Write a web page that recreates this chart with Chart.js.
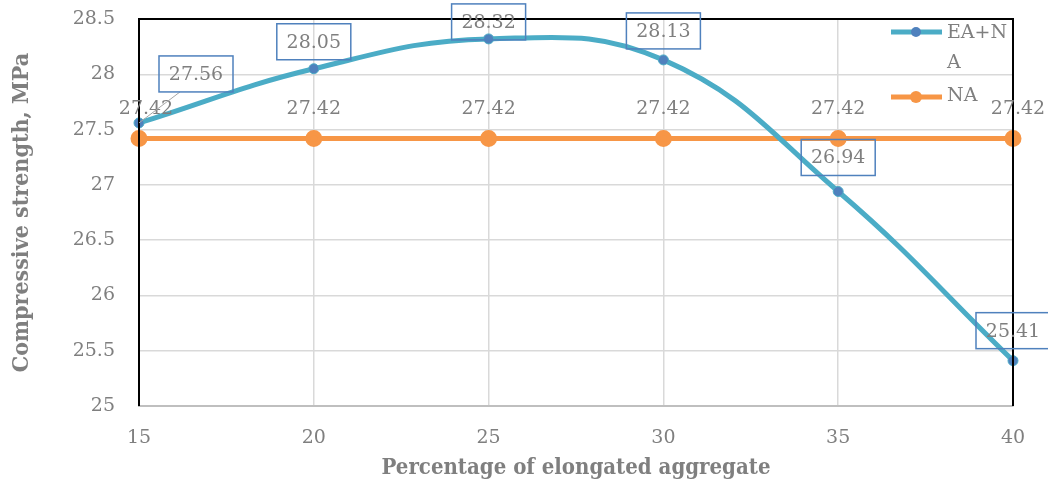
<!DOCTYPE html>
<html>
<head>
<meta charset="utf-8">
<script src="https://cdn.jsdelivr.net/npm/chart.js@4"></script>
<style>
    html, body { margin: 0; padding: 0; background: #ffffff; }
    #wrap { width: 1048px; height: 488px; }
</style>
</head>
<body>
<div id="wrap"><canvas id="strengthChart" width="1048" height="488"></canvas></div>
<script>
const percentages = [15, 20, 25, 30, 35, 40];
const eaNaValues = [27.56, 28.05, 28.32, 28.13, 26.94, 25.41];
const naValues = [27.42, 27.42, 27.42, 27.42, 27.42, 27.42];
const yTicks = [25, 25.5, 26, 26.5, 27, 27.5, 28, 28.5];
const xTicks = [15, 20, 25, 30, 35, 40];

const SERIF = "'DejaVu Serif', 'Liberation Serif', serif";
const SERIF_COND = "'DejaVu Serif Condensed', 'DejaVu Serif', serif";
const GREY_TEXT = "#7f7f7f";

// label offsets (px) from the point, like the moved Excel labels
const eaLabelShift = [[57, -49], [0, -27], [0, -17], [0, -29], [0, -34], [0, -30]];
const naLabelShift = [[7, -29], [0, -29], [0, -29], [0, -29], [0, -29], [5, -29]];

const labelPlugin = {
    id: "labelPlugin",
    afterDatasetsDraw(chart) {
        const ctx = chart.ctx;
        const area = chart.chartArea;
        ctx.save();

        // frame: black left, top, right
        ctx.strokeStyle = "#000000";
        ctx.lineWidth = 2;
        ctx.beginPath();
        ctx.moveTo(area.left, area.bottom);
        ctx.lineTo(area.left, area.top);
        ctx.lineTo(area.right, area.top);
        ctx.lineTo(area.right, area.bottom);
        ctx.stroke();

        ctx.font = "19px " + SERIF;
        ctx.textAlign = "center";
        ctx.textBaseline = "middle";

        const naMeta = chart.getDatasetMeta(1);
        naMeta.data.forEach((pt, i) => {
            const [dx, dy] = naLabelShift[i];
            ctx.fillStyle = GREY_TEXT;
            ctx.fillText(naValues[i].toFixed(2), pt.x + dx, pt.y + dy);
        });

        const eaMeta = chart.getDatasetMeta(0);
        eaMeta.data.forEach((pt, i) => {
            const [dx, dy] = eaLabelShift[i];
            const cx = pt.x + dx;
            const cy = pt.y + dy;
            const w = 74, h = 36;
            if (i === 0) {
                ctx.strokeStyle = "#a6a6a6";
                ctx.lineWidth = 1;
                ctx.beginPath();
                ctx.moveTo(pt.x, pt.y);
                ctx.lineTo(cx - 16, cy + h / 2);
                ctx.stroke();
            }
            ctx.strokeStyle = "#4f81bd";
            ctx.lineWidth = 1.5;
            ctx.strokeRect(cx - w / 2, cy - h / 2, w, h);
            ctx.fillStyle = GREY_TEXT;
            ctx.fillText(eaNaValues[i].toFixed(2), cx, cy + 1);
        });

        // legend
        ctx.lineWidth = 5;
        ctx.strokeStyle = "#4bacc6";
        ctx.beginPath();
        ctx.moveTo(891, 32);
        ctx.lineTo(942, 32);
        ctx.stroke();
        ctx.fillStyle = "#4f81bd";
        ctx.beginPath();
        ctx.arc(916, 32, 5, 0, Math.PI * 2);
        ctx.fill();

        ctx.strokeStyle = "#f79646";
        ctx.beginPath();
        ctx.moveTo(891, 97);
        ctx.lineTo(942, 97);
        ctx.stroke();
        ctx.fillStyle = "#f79646";
        ctx.beginPath();
        ctx.arc(916, 97, 6, 0, Math.PI * 2);
        ctx.fill();

        ctx.fillStyle = GREY_TEXT;
        ctx.textAlign = "left";
        ctx.fillText("EA+N", 947, 33);
        ctx.fillText("A", 947, 63);
        ctx.fillText("NA", 947, 96);

        ctx.restore();
    }
};

function renderChart() {
    const ctx = document.getElementById("strengthChart").getContext("2d");

    new Chart(ctx, {
        type: "line",
        data: {
            datasets: [{
                label: "EA+NA",
                data: percentages.map((x, i) => ({ x: x, y: eaNaValues[i] })),
                borderColor: "#4bacc6",
                borderWidth: 5,
                tension: 0.42,
                pointRadius: 5,
                pointBackgroundColor: "#4f81bd",
                pointBorderColor: "#4bacc6",
                pointBorderWidth: 1,
                clip: false
            }, {
                label: "NA",
                data: percentages.map((x, i) => ({ x: x, y: naValues[i] })),
                borderColor: "#f79646",
                borderWidth: 5,
                tension: 0,
                pointRadius: 6,
                pointBackgroundColor: "#f79646",
                pointBorderColor: "#f79646",
                clip: false
            }]
        },
        options: {
            responsive: false,
            animation: false,
            layout: { padding: { left: 0, right: 35, top: 19, bottom: 0 } },
            plugins: {
                legend: { display: false },
                tooltip: { enabled: false }
            },
            scales: {
                x: {
                    type: "linear",
                    min: 15,
                    max: 40,
                    afterBuildTicks: axis => { axis.ticks = xTicks.map(v => ({ value: v })); },
                    afterFit: axis => { axis.height = 82; },
                    grid: { color: "#d9d9d9", lineWidth: 1.5, drawTicks: false },
                    border: { color: "#bfbfbf", width: 2 },
                    ticks: {
                        color: GREY_TEXT,
                        padding: 21,
                        callback: v => String(v),
                        font: { family: SERIF, size: 19 }
                    },
                    title: {
                        display: true,
                        text: "Percentage of elongated aggregate",
                        color: GREY_TEXT,
                        padding: { top: 0, bottom: 7 },
                        font: { family: SERIF_COND, size: 22, weight: "bold" }
                    }
                },
                y: {
                    min: 25,
                    max: 28.5,
                    afterBuildTicks: axis => { axis.ticks = yTicks.map(v => ({ value: v })); },
                    afterFit: axis => {
                        axis.width = 139;
                        axis.paddingTop = 0;
                        axis.paddingBottom = 0;
                    },
                    grid: { color: "#d9d9d9", lineWidth: 1.5, drawTicks: false },
                    border: { display: false },
                    ticks: {
                        color: GREY_TEXT,
                        padding: 24,
                        callback: v => String(v),
                        font: { family: SERIF, size: 19 }
                    },
                    title: {
                        display: true,
                        text: "Compressive strength, MPa",
                        color: GREY_TEXT,
                        padding: { top: 8, bottom: 0 },
                        font: { family: SERIF_COND, size: 23, weight: "bold" }
                    }
                }
            }
        },
        plugins: [labelPlugin]
    });
}

document.addEventListener("DOMContentLoaded", renderChart);
</script>
</body>
</html>
